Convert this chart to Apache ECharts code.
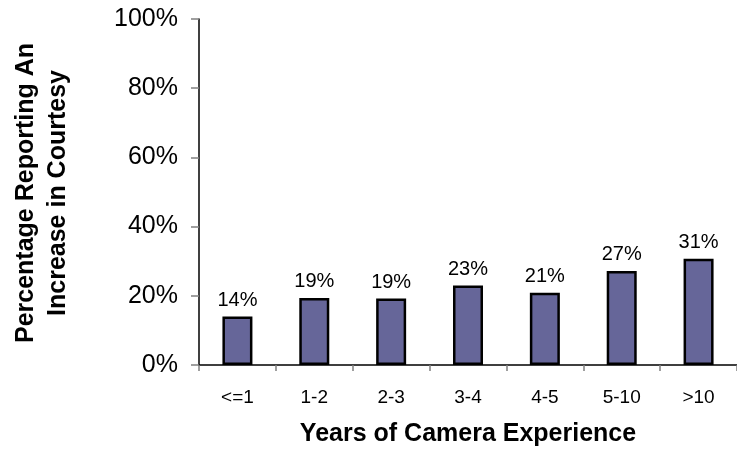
<!DOCTYPE html>
<html>
<head>
<meta charset="utf-8">
<script src="https://cdn.jsdelivr.net/npm/echarts@6/dist/echarts.min.js"></script>
<style>
html,body{margin:0;padding:0;background:#fff;}
#chart{width:737px;height:452px;}
</style>
</head>
<body>
<div id="chart"></div>
<script>
const categories = ['<=1', '1-2', '2-3', '3-4', '4-5', '5-10', '>10'];
const values = [14.0, 19.4, 19.2, 23.0, 20.9, 27.2, 30.7];
const yTitleLines = ['Percentage Reporting An', 'Increase in Courtesy'];
const xTitle = 'Years of Camera Experience';

const FONT = '"Liberation Sans", Arial, sans-serif';
const chart = echarts.init(document.getElementById('chart'), null, {renderer: 'canvas'});
chart.setOption({
  animation: false,
  backgroundColor: '#ffffff',
  grid: {left: 199, top: 19, width: 546, height: 348, containLabel: false},
  xAxis: {
    type: 'category',
    data: categories,
    name: xTitle,
    nameLocation: 'middle',
    nameGap: 57,
    nameTextStyle: {fontFamily: FONT, fontSize: 25, fontWeight: 'bold', color: '#000'},
    axisLine: {lineStyle: {color: '#000', width: 1.5}},
    axisTick: {show: true, length: 6, lineStyle: {color: '#808080', width: 1.5}},
    axisLabel: {fontFamily: FONT, fontSize: 19, color: '#000', margin: 23, interval: 0}
  },
  yAxis: {
    type: 'value',
    min: 0, max: 100, interval: 20,
    axisLine: {show: true, lineStyle: {color: '#000', width: 1.5}},
    axisTick: {show: true, length: 8, lineStyle: {color: '#808080', width: 1.5}},
    splitLine: {show: false},
    axisLabel: {fontFamily: FONT, fontSize: 25, color: '#000', margin: 21, formatter: '{value}%'}
  },
  graphic: [
    {type: 'text', x: 26, y: 193, rotation: Math.PI / 2,
     style: {text: yTitleLines[0], font: 'bold 25px "Liberation Sans", Arial, sans-serif', fill: '#000', align: 'center', verticalAlign: 'middle'}},
    {type: 'text', x: 58, y: 193, rotation: Math.PI / 2,
     style: {text: yTitleLines[1], font: 'bold 25px "Liberation Sans", Arial, sans-serif', fill: '#000', align: 'center', verticalAlign: 'middle'}}
  ],
  series: [{
    type: 'bar',
    data: values,
    barWidth: 30,
    itemStyle: {color: '#666699', borderColor: '#000', borderWidth: 2.5},
    label: {
      show: true, position: 'top', distance: 6,
      fontFamily: FONT, fontSize: 20, color: '#000',
      formatter: p => Math.round(p.value) + '%'
    }
  }]
});
</script>
</body>
</html>
